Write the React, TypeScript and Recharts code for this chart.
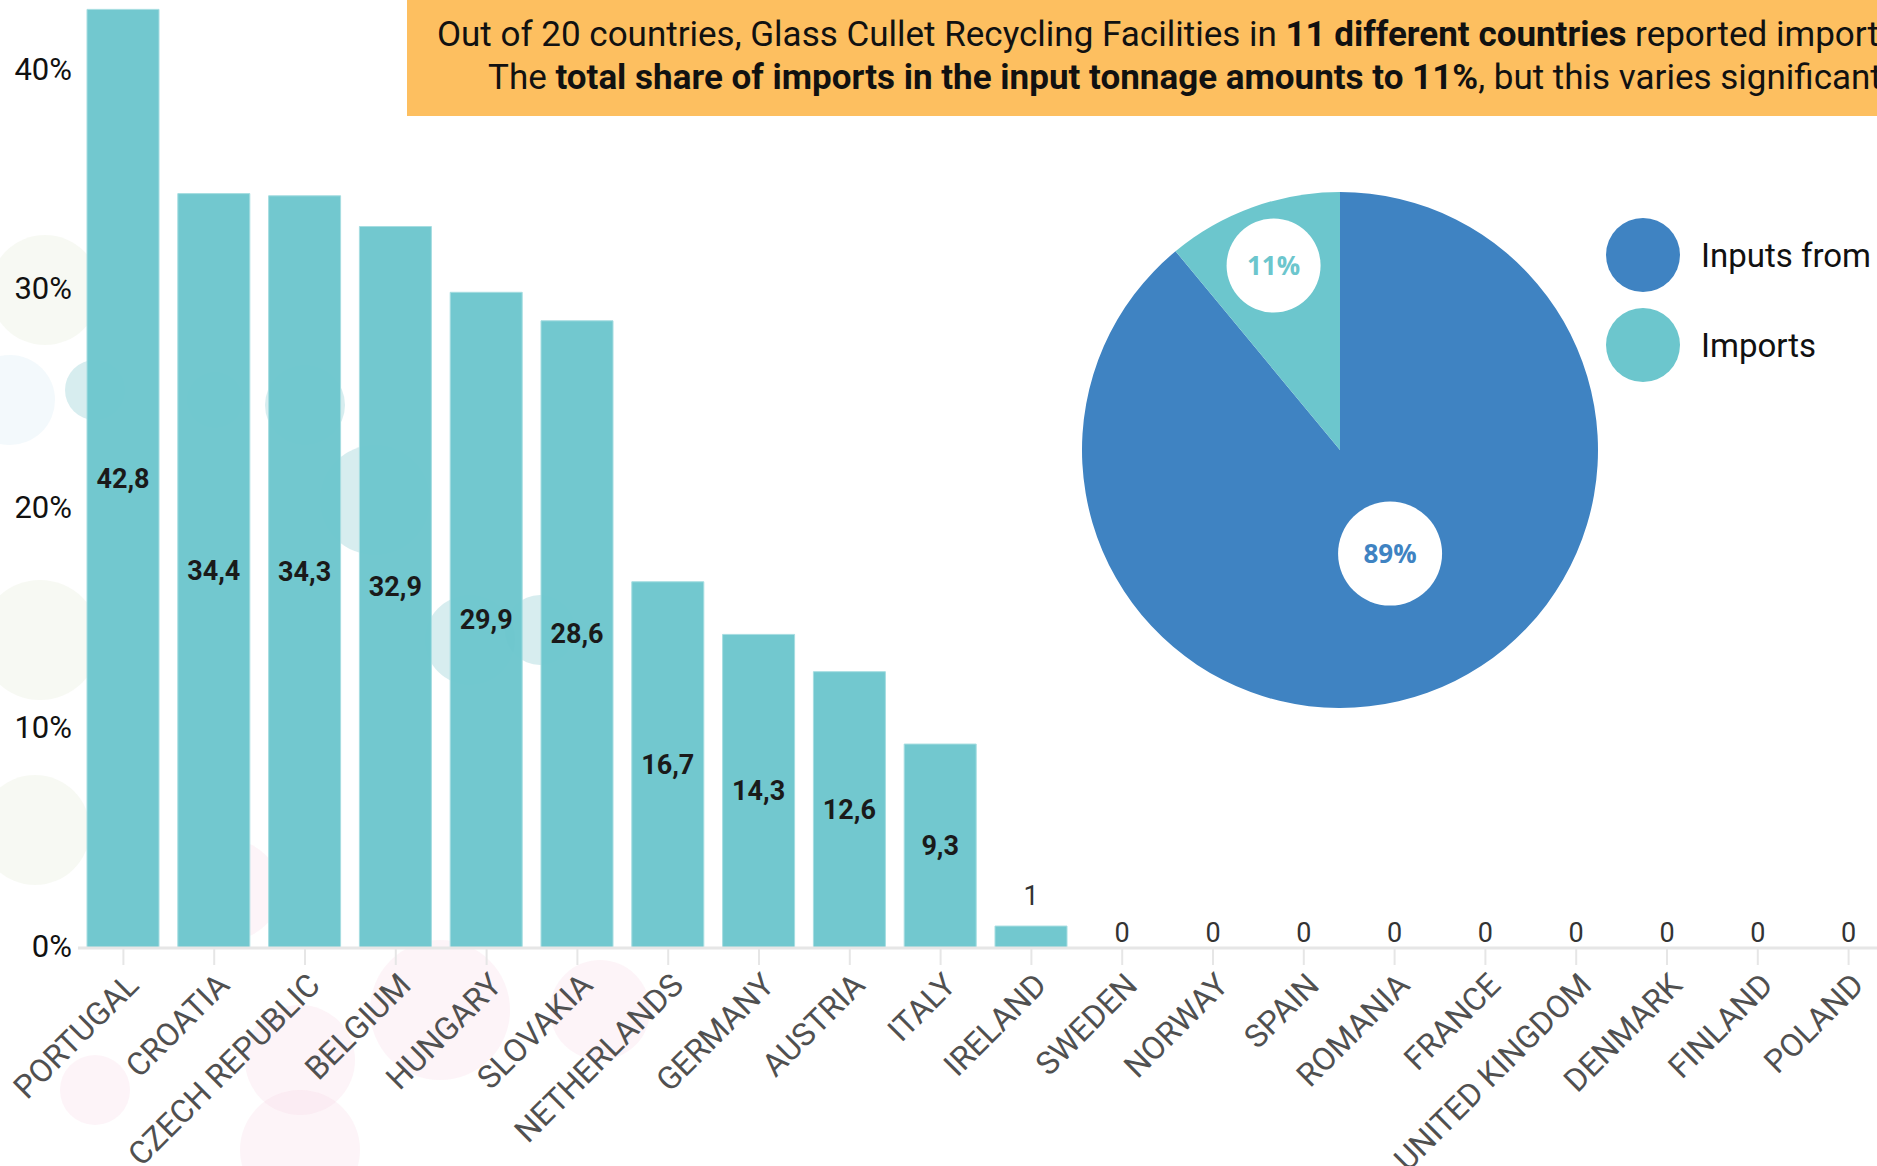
import React from 'react';
import { BarChart, Bar, XAxis, YAxis, LabelList, PieChart, Pie, Cell } from 'recharts';

const countries = [
    'PORTUGAL', 'CROATIA', 'CZECH REPUBLIC', 'BELGIUM', 'HUNGARY', 'SLOVAKIA',
    'NETHERLANDS', 'GERMANY', 'AUSTRIA', 'ITALY', 'IRELAND', 'SWEDEN', 'NORWAY',
    'SPAIN', 'ROMANIA', 'FRANCE', 'UNITED KINGDOM', 'DENMARK', 'FINLAND', 'POLAND',
];
const importShare = [42.8, 34.4, 34.3, 32.9, 29.9, 28.6, 16.7, 14.3, 12.6, 9.3, 1, 0, 0, 0, 0, 0, 0, 0, 0, 0];
const yTicks = [0, 10, 20, 30, 40];

const pieNames = ['Inputs from reporting country', 'Imports'];
const pieValues = [89, 11];
const pieColors = ['#3f83c2', '#6cc6cd'];

const TEAL = '#6cc6cd';
const FONT = 'Roboto, "Noto Sans", sans-serif';
const TICK_SIZE = 17;

const barData = countries.map((c, i) => ({ country: c, share: importShare[i] }));
const pieData = pieNames.map((n, i) => ({ name: n, value: pieValues[i] }));

const fmt = (v: number) => String(v).replace('.', ',');

// faint decorative blobs in the background (not data)
const blobs = [
    { x: 45, y: 290, r: 55, c: '#dfe9cf' },
    { x: 10, y: 400, r: 45, c: '#cfe9f2' },
    { x: 40, y: 640, r: 60, c: '#dfe9cf' },
    { x: 35, y: 830, r: 55, c: '#dfe9cf' },
    { x: 95, y: 390, r: 30, c: '#5fb9c0' },
    { x: 215, y: 400, r: 28, c: '#5fb9c0' },
    { x: 305, y: 405, r: 40, c: '#5fb9c0' },
    { x: 375, y: 500, r: 55, c: '#5fb9c0' },
    { x: 470, y: 640, r: 45, c: '#5fb9c0' },
    { x: 540, y: 630, r: 35, c: '#5fb9c0' },
    { x: 95, y: 1090, r: 35, c: '#f6d5e3' },
    { x: 230, y: 890, r: 50, c: '#f6d5e3' },
    { x: 300, y: 1060, r: 55, c: '#f6d5e3' },
    { x: 440, y: 1010, r: 70, c: '#f6d5e3' },
    { x: 600, y: 1010, r: 50, c: '#f6d5e3' },
    { x: 300, y: 1150, r: 60, c: '#f6d5e3' },
];

const CountryTick = (props: any) => {
    const { x, y, payload, index } = props;
    const i = typeof index === 'number' ? index : countries.indexOf(payload.value);
    const axisY = y - TICK_SIZE;
    return (
        <g>
            {importShare[i] === 0 && (
                <text x={x} y={axisY - 6} textAnchor="middle" fontSize={27} fill="#333" fontFamily={FONT}>
                    {fmt(importShare[i])}
                </text>
            )}
            <g transform={`translate(${x + 17},${y + 22})`}>
                <text textAnchor="end" transform="rotate(-45)" fontSize={32} fill="#505050" fontFamily={FONT}>
                    {payload.value}
                </text>
            </g>
        </g>
    );
};

const PercentTick = (props: any) => {
    const { x, y, payload } = props;
    return (
        <text x={x} y={y} dy={9} textAnchor="end" fontSize={31} fill="#111" fontFamily={FONT}>
            {payload.value}%
        </text>
    );
};

const BarValueLabel = (props: any) => {
    const { x, y, width, height, value } = props;
    if (!value) return null;
    const cx = Number(x) + Number(width) / 2;
    if (value < 5) {
        return (
            <text x={cx} y={Number(y) - 21} textAnchor="middle" fontSize={27} fill="#333" fontFamily={FONT}>
                {fmt(value)}
            </text>
        );
    }
    return (
        <text x={cx} y={Number(y) + Number(height) / 2} dy={9} textAnchor="middle" fontSize={27} fontWeight={700} fill="#1a1a1a" fontFamily={FONT}>
            {fmt(value)}
        </text>
    );
};

const bubbleFactor = [0.446, 0.76];
const bubbleAngleShift = [6, 0];
const bubbleSize = [52, 47];

const PieBubble = (props: any) => {
    const { cx, cy, midAngle, outerRadius, index, value } = props;
    const RAD = Math.PI / 180;
    const r = outerRadius * bubbleFactor[index];
    const a = midAngle + bubbleAngleShift[index];
    const x = cx + r * Math.cos(-a * RAD);
    const y = cy + r * Math.sin(-a * RAD);
    return (
        <g>
            <circle cx={x} cy={y} r={bubbleSize[index]} fill="#fff" />
            <text x={x} y={y} dy={9} textAnchor="middle" fontSize={26} fontWeight={700} fill={pieColors[index]} fontFamily='"Open Sans", sans-serif'>
                {value}%
            </text>
        </g>
    );
};

export default function App() {
    return (
        <div style={{ position: 'fixed', left: 0, top: 0, width: 1877, height: 1166, overflow: 'hidden', background: '#fff', fontFamily: FONT }}>
            <svg width={1877} height={1166} style={{ position: 'absolute', left: 0, top: 0 }}>
                {blobs.map((b, i) => (
                    <circle key={i} cx={b.x} cy={b.y} r={b.r} fill={b.c} opacity={0.25} />
                ))}
            </svg>

            <div style={{ position: 'absolute', left: 0, top: 0 }}>
                <BarChart
                    width={1894}
                    height={1166}
                    data={barData}
                    margin={{ top: 5, right: 0, left: 0, bottom: 0 }}
                    barSize={72}
                >
                    <XAxis
                        dataKey="country"
                        interval={0}
                        height={218}
                        tick={<CountryTick />}
                        tickSize={TICK_SIZE}
                        tickMargin={0}
                        axisLine={{ stroke: '#e6e6e6', strokeWidth: 3 }}
                        tickLine={{ stroke: '#e6e6e6', strokeWidth: 2 }}
                    />
                    <YAxis
                        domain={[0, 43]}
                        ticks={yTicks}
                        width={78}
                        tick={<PercentTick />}
                        tickSize={0}
                        tickMargin={6}
                        axisLine={false}
                        tickLine={false}
                    />
                    <Bar dataKey="share" fill={TEAL} fillOpacity={0.96} stroke="#a6dde1" strokeWidth={1} isAnimationActive={false}>
                        <LabelList dataKey="share" content={<BarValueLabel />} />
                    </Bar>
                </BarChart>
            </div>

            <div style={{ position: 'absolute', left: 1035, top: 145 }}>
                <PieChart width={600} height={600}>
                    <Pie
                        data={pieData}
                        dataKey="value"
                        nameKey="name"
                        cx={300}
                        cy={300}
                        outerRadius={258}
                        startAngle={90}
                        endAngle={-270}
                        stroke="none"
                        labelLine={false}
                        label={<PieBubble />}
                        isAnimationActive={false}
                    >
                        {pieData.map((d, i) => (
                            <Cell key={d.name} fill={pieColors[i]} />
                        ))}
                    </Pie>
                </PieChart>
            </div>

            <svg width={300} height={200} style={{ position: 'absolute', left: 1600, top: 210 }}>
                {pieData.map((d, i) => (
                    <g key={d.name}>
                        <circle cx={43} cy={45 + i * 90} r={37} fill={pieColors[i]} />
                        <text x={101} y={57 + i * 90} fontSize={33} fill="#111" fontFamily={FONT}>
                            {d.name}
                        </text>
                    </g>
                ))}
            </svg>

            <div style={{ position: 'absolute', left: 407, top: 0, width: 1500, height: 116, background: '#fdbf60', color: '#111', fontSize: 35, lineHeight: '35px', whiteSpace: 'nowrap' }}>
                <div style={{ position: 'absolute', left: 30, top: 17 }}>
                    Out of 20 countries, Glass Cullet Recycling Facilities in <b>11 different countries</b> reported imports of glass cullet.
                </div>
                <div style={{ position: 'absolute', left: 81, top: 60 }}>
                    The <b>total share of imports in the input tonnage amounts to 11%</b>, but this varies significantly between countries.
                </div>
            </div>
        </div>
    );
}
